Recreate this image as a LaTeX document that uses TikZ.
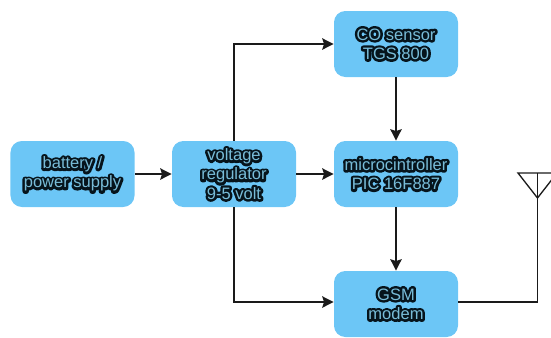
\documentclass[tikz,border=0pt]{standalone}
\usepackage{fontspec}
\setmainfont{Liberation Sans}
\newfontfamily\halofont[FakeBold=30]{Liberation Sans}
\usetikzlibrary{positioning,arrows.meta}
\definecolor{boxblue}{HTML}{6CC6F6}
\definecolor{textblue}{HTML}{78BCD8}
\definecolor{halo}{HTML}{06141C}
\definecolor{wire}{HTML}{1A1A1A}
\newcommand{\halotext}[1]{\special{pdf:code 1 j}\rlap{\halofont\textcolor{halo}{#1}}\textcolor{textblue}{#1}}
\tikzset{
  block/.style={fill=boxblue,rounded corners=6.5pt,minimum width=2.48cm,minimum height=1.32cm,
    inner sep=0pt,align=center,font=\fontsize{9.4}{11}\selectfont},
  wire/.style={draw=wire,line width=0.75pt},
  flow/.style={wire,-{Stealth[length=6.5pt,width=6.5pt,inset=1pt]}}
}
\begin{document}
\begin{tikzpicture}[>=Stealth]
        \useasboundingbox (0,0) rectangle (11.02,6.74);
        % blocks
        \node[block] (bat) at (1.45,3.26) {\halotext{battery /}\\\halotext{power supply}};
        \node[block] (reg) at (4.68,3.26) {\halotext{voltage}\\\halotext{regulator}\\\halotext{9-5 volt}};
        \node[block] (sens) at (7.92,5.86) {\halotext{CO sensor}\\\halotext{TGS 800}};
        \node[block] (mcu) at (7.92,3.26) {\halotext{microcintroller}\\\halotext{PIC 16F887}};
        \node[block] (gsm) at (7.92,0.66) {\halotext{GSM}\\\halotext{modem}};
        % antenna
        \coordinate (antl) at (10.36,3.28);
        \coordinate (antr) at (11.14,3.28);
        \coordinate (anttop) at (10.75,3.28);
        \coordinate (anttip) at (10.75,2.78);
        \coordinate (gsmout) at ([yshift=0.04cm]gsm.east);
        \coordinate (gsmin) at ([yshift=0.04cm]gsm.west);
        \draw[wire] (antl) -- (antr) -- (anttip) -- cycle;
        % connectors
        \draw[flow] (bat) -- (reg);
        \draw[flow] (reg) -- (mcu);
        \draw[flow] (reg.north) |- (sens.west);
        \draw[flow] (reg.south) |- (gsmin);
        \draw[flow] (sens) -- (mcu);
        \draw[flow] (mcu) -- (gsm);
        \draw[wire] (gsmout) -| (anttop);
      \end{tikzpicture}
\end{document}
